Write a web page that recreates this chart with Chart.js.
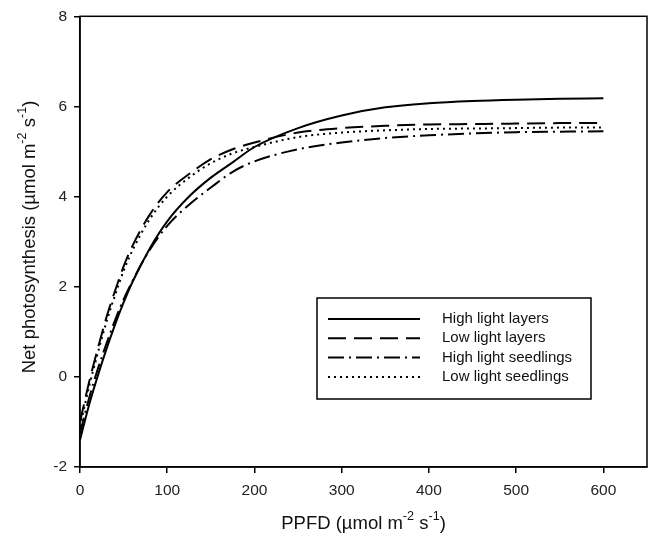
<!DOCTYPE html>
<html>
<head>
<meta charset="utf-8">
<script src="https://cdn.jsdelivr.net/npm/chart.js@4.4.1/dist/chart.umd.min.js"></script>
<style>
  html, body { margin: 0; padding: 0; background: #fff; }
  #wrap { width: 649px; height: 537px; }
</style>
</head>
<body>
<div id="wrap"><canvas id="lightChart" width="649" height="537"></canvas></div>
<script>
// Light response curves
const ppfd = [0, 10, 20, 30, 40, 50, 60, 80, 100, 125, 150, 175, 200, 250, 300, 350, 400, 450, 500, 550, 600];
const highLightLayers    = [-1.40, -0.65, 0.00, 0.60, 1.15, 1.65, 2.10, 2.85, 3.45, 4.00, 4.42, 4.76, 5.10, 5.52, 5.80, 5.98, 6.07, 6.12, 6.15, 6.17, 6.18];
const lowLightLayers     = [-1.00, -0.15, 0.60, 1.30, 1.90, 2.45, 2.90, 3.60, 4.10, 4.50, 4.83, 5.05, 5.20, 5.42, 5.52, 5.57, 5.60, 5.61, 5.62, 5.63, 5.63];
const highLightSeedlings = [-1.25, -0.50, 0.15, 0.72, 1.25, 1.72, 2.12, 2.82, 3.35, 3.82, 4.20, 4.55, 4.78, 5.05, 5.20, 5.30, 5.36, 5.40, 5.43, 5.44, 5.45];
const lowLightSeedlings  = [-1.10, -0.25, 0.50, 1.20, 1.80, 2.35, 2.80, 3.50, 4.00, 4.42, 4.74, 4.96, 5.10, 5.32, 5.42, 5.47, 5.50, 5.51, 5.52, 5.53, 5.53];

const seriesNames = ['High light layers', 'Low light layers', 'High light seedlings', 'Low light seedlings'];
const yTicks = [-2, 0, 2, 4, 6, 8];
const xTicks = [0, 100, 200, 300, 400, 500, 600];

const FONT = '"Liberation Sans", Arial, sans-serif';
const INK = '#111';

function toPoints(ys) {
    return ppfd.map((x, i) => ({ x: x, y: ys[i] }));
}

// draw text with raised small pieces, centred on (x, y)
function drawSupText(ctx, parts, x, y, size, rotate) {
    ctx.save();
    ctx.translate(x, y);
    if (rotate) ctx.rotate(-Math.PI / 2);
    ctx.fillStyle = INK;
    ctx.textBaseline = 'middle';
    ctx.textAlign = 'left';
    let total = 0;
    parts.forEach(p => {
        ctx.font = (p[1] ? size * 0.68 : size) + 'px ' + FONT;
        total += ctx.measureText(p[0]).width;
    });
    let cx = -total / 2;
    parts.forEach(p => {
        ctx.font = (p[1] ? size * 0.68 : size) + 'px ' + FONT;
        ctx.fillText(p[0], cx, p[1] ? -size * 0.38 : 0);
        cx += ctx.measureText(p[0]).width;
    });
    ctx.restore();
}

const frameAndTitles = {
    id: 'frameAndTitles',
    afterDraw(chart) {
        const ctx = chart.ctx;
        const a = chart.chartArea;
        ctx.save();
        ctx.strokeStyle = '#000';
        ctx.lineWidth = 1.5;
        ctx.strokeRect(a.left, a.top, a.right - a.left, a.bottom - a.top);
        ctx.restore();

        drawSupText(ctx, [['PPFD (\u00b5mol m', false], ['-2', true], [' s', false], ['-1', true], [')', false]],
            (a.left + a.right) / 2, 524, 18.5, false);
        drawSupText(ctx, [['Net photosynthesis (\u00b5mol m', false], ['-2', true], [' s', false], ['-1', true], [')', false]],
            30, 237, 18.5, true);

        // legend box inside the plot
        const lx = 317, ly = 298, lw = 274, lh = 101;
        ctx.save();
        ctx.fillStyle = '#fff';
        ctx.fillRect(lx, ly, lw, lh);
        ctx.strokeStyle = '#000';
        ctx.lineWidth = 1.5;
        ctx.strokeRect(lx, ly, lw, lh);
        chart.data.datasets.forEach((ds, i) => {
            const ry = 319 + i * 19.3;
            ctx.strokeStyle = '#000';
            ctx.lineWidth = ds.borderWidth;
            ctx.setLineDash(ds.borderDash || []);
            ctx.beginPath();
            ctx.moveTo(328, ry);
            ctx.lineTo(420, ry);
            ctx.stroke();
            ctx.setLineDash([]);
            ctx.fillStyle = INK;
            ctx.font = '15px ' + FONT;
            ctx.textBaseline = 'middle';
            ctx.fillText(ds.label, 442, ry);
        });
        ctx.restore();
    }
};

const ctx = document.getElementById('lightChart').getContext('2d');
new Chart(ctx, {
    type: 'line',
    data: {
        datasets: [
            { label: seriesNames[0], data: toPoints(highLightLayers), borderColor: '#000', borderWidth: 2, borderDash: [] },
            { label: seriesNames[1], data: toPoints(lowLightLayers), borderColor: '#000', borderWidth: 2, borderDash: [18, 8] },
            { label: seriesNames[2], data: toPoints(highLightSeedlings), borderColor: '#000', borderWidth: 2, borderDash: [16, 5, 2, 5] },
            { label: seriesNames[3], data: toPoints(lowLightSeedlings), borderColor: '#000', borderWidth: 2, borderDash: [2, 4] }
        ]
    },
    options: {
        responsive: false,
        animation: false,
        layout: { padding: { left: 0, top: 14, right: 2, bottom: 0 } },
        elements: {
            point: { radius: 0 },
            line: { cubicInterpolationMode: 'monotone', fill: false }
        },
        plugins: { legend: { display: false }, tooltip: { enabled: false } },
        scales: {
            x: {
                type: 'linear',
                min: 0, max: 650,
                afterBuildTicks: s => { s.ticks = xTicks.map(v => ({ value: v })); },
                afterFit: s => { s.height = 70; },
                border: { display: true, color: '#000', width: 1.5 },
                grid: { display: true, drawOnChartArea: false, drawTicks: true, tickLength: 6, color: '#000', lineWidth: 1.5 },
                ticks: { color: '#222', font: { family: FONT, size: 15.5 }, padding: 8, maxRotation: 0 }
            },
            y: {
                type: 'linear',
                min: -2, max: 8,
                afterBuildTicks: s => { s.ticks = yTicks.map(v => ({ value: v })); },
                afterFit: s => { s.width = 80; },
                border: { display: true, color: '#000', width: 1.5 },
                grid: { display: true, drawOnChartArea: false, drawTicks: true, tickLength: 6, color: '#000', lineWidth: 1.5 },
                ticks: { color: '#222', font: { family: FONT, size: 15.5 }, padding: 7 }
            }
        }
    },
    plugins: [frameAndTitles]
});
</script>
</body>
</html>
